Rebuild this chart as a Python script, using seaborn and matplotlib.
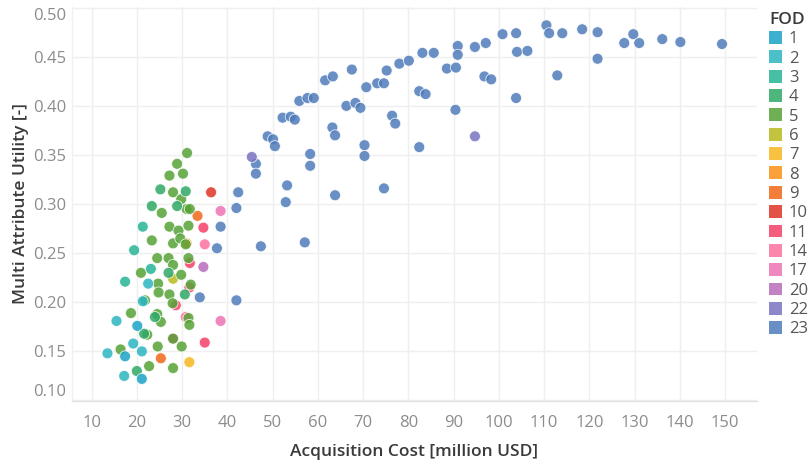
import matplotlib
matplotlib.use("Agg")
import matplotlib.pyplot as plt
from matplotlib.patches import Patch
import seaborn as sns
import pandas as pd

# FOD group, acquisition cost [million USD], multi attribute utility [-]
fod = (
    [23] * 75
    + [22] * 2
    + [20]
    + [17] * 2
    + [14] * 2
    + [11] * 6
    + [10]
    + [9] * 2
    + [8]
    + [7]
    + [6]
    + [5] * 40
    + [4] * 9
    + [3] * 4
    + [2] * 7
    + [1] * 3
)

cost = [
    # FOD 23
    94.7, 97.1, 100.8, 103.8, 110.5, 111.1, 114.0, 118.4, 121.8, 129.7,
    127.7, 131.0, 136.1, 140.1, 149.3, 104.0, 106.3, 121.8, 96.8, 98.3,
    112.9, 103.8, 42.4, 46.3, 46.3, 48.9, 50.1, 50.5, 52.2, 54.0,
    54.9, 55.9, 57.7, 59.1, 61.6, 63.3, 67.5, 70.7, 73.1, 74.6,
    75.2, 78.0, 80.1, 83.1, 85.6, 90.9, 90.9, 88.5, 90.5, 82.4,
    83.8, 90.4, 66.3, 68.3, 69.4, 76.4, 77.1, 63.2, 63.8, 70.3,
    70.3, 82.4, 58.3, 58.3, 53.2, 63.8, 74.6, 52.9, 42.0, 38.5,
    37.7, 47.4, 57.1, 33.9, 42.0,
    # FOD 22
    94.7, 45.4,
    # FOD 20
    34.7,
    # FOD 17
    38.5, 38.5,
    # FOD 14
    35.0, 30.8,
    # FOD 11
    34.7, 35.0, 31.7, 28.6, 28.0, 31.6,
    # FOD 10
    36.4,
    # FOD 9
    33.4, 25.3,
    # FOD 8
    31.0,
    # FOD 7
    31.6,
    # FOD 6
    28.0,
    # FOD 5
    31.1, 28.9, 27.2, 30.2, 28.0, 29.8, 25.5, 31.0, 31.7, 27.2,
    29.2, 31.4, 23.3, 28.0, 29.6, 30.8, 24.5, 27.0, 28.0, 31.4,
    20.9, 29.8, 24.7, 24.8, 27.2, 31.9, 21.8, 27.9, 18.7, 24.5,
    25.3, 31.4, 31.6, 22.3, 28.0, 16.4, 24.6, 29.9, 22.7, 28.0,
    # FOD 4
    25.2, 30.8, 23.3, 28.9, 27.0, 30.6, 24.0, 21.6, 20.0,
    # FOD 3
    21.3, 19.4, 23.1, 17.4,
    # FOD 2
    22.5, 21.3, 15.5, 19.2, 21.1, 13.5, 17.2,
    # FOD 1
    20.1, 17.4, 21.1,
]

utility = [
    # FOD 23
    0.460, 0.464, 0.473, 0.474, 0.482, 0.474, 0.474, 0.478, 0.475, 0.473,
    0.464, 0.464, 0.468, 0.465, 0.463, 0.455, 0.456, 0.448, 0.430, 0.427,
    0.431, 0.408, 0.312, 0.341, 0.331, 0.369, 0.366, 0.359, 0.388, 0.389,
    0.386, 0.405, 0.408, 0.408, 0.426, 0.430, 0.437, 0.419, 0.423, 0.423,
    0.436, 0.443, 0.446, 0.454, 0.454, 0.461, 0.452, 0.438, 0.439, 0.415,
    0.412, 0.396, 0.400, 0.403, 0.398, 0.390, 0.382, 0.378, 0.370, 0.360,
    0.349, 0.358, 0.351, 0.339, 0.319, 0.309, 0.316, 0.302, 0.296, 0.277,
    0.255, 0.257, 0.261, 0.205, 0.202,
    # FOD 22
    0.369, 0.348,
    # FOD 20
    0.236,
    # FOD 17
    0.293, 0.181,
    # FOD 14
    0.259, 0.185,
    # FOD 11
    0.276, 0.159, 0.240, 0.197, 0.163, 0.215,
    # FOD 10
    0.312,
    # FOD 9
    0.288, 0.143,
    # FOD 8
    0.260,
    # FOD 7
    0.139,
    # FOD 6
    0.224,
    # FOD 5
    0.352, 0.341, 0.329, 0.331, 0.312, 0.305, 0.291, 0.295, 0.295, 0.277,
    0.273, 0.278, 0.263, 0.260, 0.265, 0.259, 0.245, 0.245, 0.238, 0.245,
    0.230, 0.228, 0.219, 0.210, 0.208, 0.218, 0.202, 0.199, 0.189, 0.188,
    0.180, 0.184, 0.177, 0.167, 0.163, 0.152, 0.155, 0.155, 0.135, 0.133,
    # FOD 4
    0.315, 0.313, 0.298, 0.298, 0.230, 0.208, 0.185, 0.168, 0.130,
    # FOD 3
    0.277, 0.253, 0.234, 0.221,
    # FOD 2
    0.219, 0.201, 0.181, 0.158, 0.150, 0.148, 0.125,
    # FOD 1
    0.176, 0.145, 0.122,
]

fod_levels = [1, 2, 3, 4, 5, 6, 7, 8, 9, 10, 11, 14, 17, 20, 22, 23]
fod_colors = [
    "#1ba3c6", "#2cb5c0", "#27b496", "#2fa866", "#57a337", "#b9ba1c",
    "#f8b620", "#f89217", "#f06719", "#e03426", "#f44168", "#fc719e",
    "#eb73b3", "#ba6cbc", "#7873c0", "#4f7cba",
]

x_ticks = list(range(10, 151, 10))
y_ticks = [0.10, 0.15, 0.20, 0.25, 0.30, 0.35, 0.40, 0.45, 0.50]

df = pd.DataFrame({"FOD": fod, "cost": cost, "utility": utility})
palette = dict(zip(fod_levels, fod_colors))

sns.set_theme(style="white")
plt.rcParams["font.family"] = ["Open Sans", "DejaVu Sans"]

fig = plt.figure(figsize=(8.11, 4.65), dpi=100)
ax = fig.add_axes([0.0884, 0.1383, 0.8454, 0.8473])

sns.scatterplot(
    data=df, x="cost", y="utility", hue="FOD", palette=palette,
    hue_order=fod_levels[::-1], s=62, alpha=0.85, edgecolor="white",
    linewidth=0.6, legend=False, ax=ax,
)

ax.set_xlim(5.6, 157.1)
ax.set_ylim(0.0998, 0.501)
ax.set_xticks(x_ticks)
ax.set_yticks(y_ticks)
ax.set_xticklabels([str(t) for t in x_ticks])
ax.set_yticklabels([f"{t:.2f}" for t in y_ticks])
ax.grid(True, color="#efefef", linewidth=1.0)
ax.set_axisbelow(True)

tick_gray = "#8c8c8c"
ax.tick_params(axis="both", length=0, labelsize=12, labelcolor=tick_gray)
ax.tick_params(axis="x", pad=10)
ax.tick_params(axis="y", pad=4)
ylabels = ax.get_yticklabels()
ylabels[0].set_va("bottom")
ylabels[-1].set_va("top")

for side in ["top", "right"]:
    ax.spines[side].set_visible(False)
ax.spines["left"].set_color("#f0f0f0")
ax.spines["bottom"].set_color("#e3e3e3")
ax.spines["left"].set_linewidth(1.0)
ax.spines["bottom"].set_linewidth(1.0)

title_color = "#3a3a3a"
ax.set_xlabel("Acquisition Cost [million USD]", fontsize=12.5,
              fontweight="semibold", color=title_color, labelpad=10)
ax.set_ylabel("Multi Attribute Utility [-]", fontsize=12.5,
              fontweight="semibold", color=title_color, labelpad=3)

handles = [Patch(facecolor=c, alpha=0.85, edgecolor="none") for c in fod_colors]
leg = fig.legend(
    handles, [str(v) for v in fod_levels], title="FOD",
    loc="upper left", bbox_to_anchor=(769 / 811, 1 - 12 / 465),
    frameon=False, fontsize=12, title_fontsize=12.5,
    handlelength=0.8, handleheight=0.8, handletextpad=0.4,
    labelspacing=0.19, borderaxespad=0, borderpad=0, alignment="left",
)
leg.get_title().set_fontweight("semibold")
leg.get_title().set_color(title_color)
for t in leg.get_texts():
    t.set_color("#555555")

fig.savefig("out.png", dpi=100)
